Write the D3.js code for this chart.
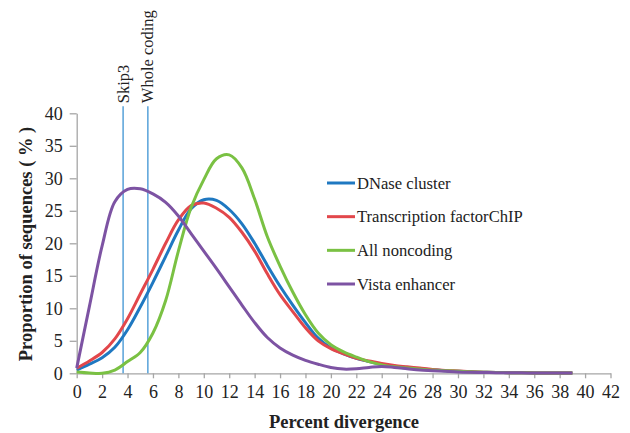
<!DOCTYPE html>
<html lang="en">
<head>
<meta charset="UTF-8">
<script src="https://cdn.jsdelivr.net/npm/d3@7/dist/d3.min.js"></script>
<title>Percent divergence</title>
<style>
  body { margin: 0; background: #fff; }
  svg text { font-family: "Liberation Serif", "Times New Roman", Times, "DejaVu Serif", serif; fill: #222; }
</style>
</head>
<body>
<script>
// divergence (%) 0..39
var divergence = d3.range(0, 40);

var dnase = [0.5, 1.4, 2.4, 4.0, 6.7, 10.2, 14.0, 18.0, 22.0, 25.3, 26.7, 26.6, 25.2, 23.0, 20.0, 16.6,
  13.4, 10.5, 7.8, 5.4, 3.9, 3.0, 2.3, 1.8, 1.4, 1.1, 0.9, 0.7, 0.55, 0.4, 0.3, 0.22, 0.16, 0.12, 0.1, 0.08, 0.06, 0.05, 0.04, 0.03];
var tfChip = [0.8, 1.9, 3.2, 5.3, 8.4, 12.2, 16.0, 20.0, 23.6, 25.8, 26.2, 25.4, 24.0, 21.7, 18.8, 15.3,
  12.1, 9.5, 7.0, 5.0, 3.8, 3.0, 2.3, 1.9, 1.5, 1.2, 1.0, 0.8, 0.6, 0.45, 0.35, 0.25, 0.18, 0.13, 0.1, 0.08, 0.06, 0.05, 0.04, 0.03];
var allNoncoding = [0.2, 0.05, 0.0, 0.5, 1.8, 3.2, 6.2, 11.2, 18.8, 25.5, 29.8, 33.0, 33.6, 31.6, 26.8, 21.0,
  16.5, 12.5, 9.0, 6.2, 4.4, 3.3, 2.5, 1.8, 1.3, 1.0, 0.8, 0.65, 0.5, 0.4, 0.3, 0.22, 0.16, 0.12, 0.1, 0.08, 0.06, 0.05, 0.04, 0.03];
var vista = [0.8, 10.3, 19.6, 26.4, 28.3, 28.4, 27.6, 26.3, 24.2, 21.5, 18.8, 16.1, 13.3, 10.5, 7.8, 5.5,
  3.9, 2.8, 2.0, 1.4, 0.9, 0.65, 0.7, 0.9, 1.05, 0.9, 0.7, 0.5, 0.4, 0.3, 0.2, 0.15, 0.12, 0.1, 0.08, 0.07, 0.06, 0.05, 0.05, 0.05];

var seriesNames = ["DNase cluster", "Transcription factorChIP", "All noncoding", "Vista enhancer"];
var seriesValues = [dnase, tfChip, allNoncoding, vista];
var seriesColors = ["#1f78c1", "#e2474b", "#7ac143", "#7d53a3"];

var markerNames = ["Skip3", "Whole coding"];
var markerValues = [3.65, 5.6];

var xTicks = d3.range(0, 43, 2);
var yTicks = d3.range(0, 41, 5);

var width = 630, height = 433;
var svg = d3.select("body").append("svg")
  .attr("width", width)
  .attr("height", height);

var x = d3.scaleLinear().domain([0, 42]).range([76.7, 610.5]);
var y = d3.scaleLinear().domain([0, 40]).range([373.3, 113.3]);

// axes
var yAxis = svg.append("g")
  .attr("transform", "translate(" + x(0) + ",0)")
  .call(d3.axisLeft(y).tickValues(yTicks).tickSize(7).tickSizeOuter(0).tickPadding(7));
var xAxis = svg.append("g")
  .attr("transform", "translate(0," + y(0) + ")")
  .call(d3.axisBottom(x).tickValues(xTicks).tickSize(5).tickSizeOuter(0).tickPadding(7));

[yAxis, xAxis].forEach(function(g) {
  g.attr("font-family", null);
  g.select(".domain").attr("stroke", "#a6a6a6").attr("stroke-width", 1.3);
  g.selectAll(".tick line").attr("stroke", "#a6a6a6").attr("stroke-width", 1.3);
  g.selectAll(".tick text")
    .attr("font-size", 18)
    .attr("fill", "#222");
});

// marker lines
markerValues.forEach(function(v, i) {
  svg.append("line")
    .attr("x1", x(v)).attr("x2", x(v))
    .attr("y1", y(41.1)).attr("y2", y(0))
    .attr("stroke", "#3d93d3")
    .attr("stroke-width", 1.3);
  svg.append("text")
    .attr("transform", "translate(" + (x(v) + 5.5) + "," + (y(41.1) - 3) + ") rotate(-90)")
    .attr("font-size", 16.5)
    .text(markerNames[i]);
});

// curves
var line = d3.line()
  .x(function(d, i) { return x(divergence[i]); })
  .y(function(d) { return y(d); })
  .curve(d3.curveCatmullRom.alpha(0.5));

seriesValues.forEach(function(vals, i) {
  svg.append("path")
    .datum(vals)
    .attr("d", line)
    .attr("fill", "none")
    .attr("stroke", seriesColors[i])
    .attr("stroke-width", 3)
    .attr("stroke-linejoin", "round");
});

// legend
var legendY = d3.scalePoint().domain(seriesNames).range([183, 284]);
var legend = svg.selectAll(".legend")
  .data(seriesNames)
  .enter().append("g")
  .attr("transform", function(d) { return "translate(327," + legendY(d) + ")"; });
legend.append("line")
  .attr("x1", 0).attr("x2", 28)
  .attr("stroke", function(d, i) { return seriesColors[i]; })
  .attr("stroke-width", 3);
legend.append("text")
  .attr("x", 30)
  .attr("dy", "0.35em")
  .attr("font-size", 16.6)
  .text(function(d) { return d; });

// axis titles
svg.append("text")
  .attr("transform", "translate(32,244) rotate(-90)")
  .attr("text-anchor", "middle")
  .attr("font-size", 18.5)
  .attr("font-weight", "bold")
  .text("Proportion of sequences ( % )");
svg.append("text")
  .attr("x", 344)
  .attr("y", 428)
  .attr("text-anchor", "middle")
  .attr("font-size", 18.5)
  .attr("font-weight", "bold")
  .text("Percent divergence");
</script>
</body>
</html>
